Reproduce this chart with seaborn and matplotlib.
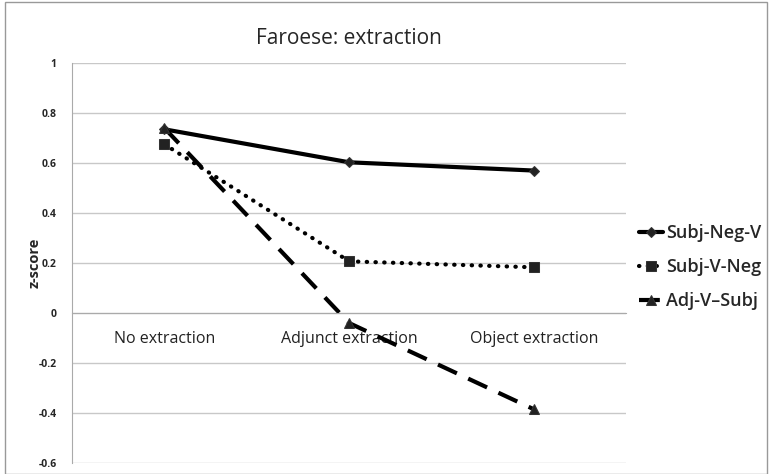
import pandas as pd
import seaborn as sns
import matplotlib.pyplot as plt
from matplotlib.patches import Rectangle
from matplotlib.ticker import MultipleLocator, FixedLocator

# Dữ liệu
categories = ["No extraction", "Adjunct extraction", "Object extraction"]
subj_neg_v = [0.735, 0.603, 0.570]
subj_v_neg = [0.675, 0.207, 0.183]
adj_v_subj = [0.740, -0.040, -0.385]
series_names = ["Subj-Neg-V", "Subj-V-Neg", "Adj-V\u2013Subj"]

df = pd.DataFrame({
    "cat": categories * 3,
    "z": subj_neg_v + subj_v_neg + adj_v_subj,
    "series": [s for s in series_names for _ in categories],
})

sns.set_style("white")
plt.rcParams["font.family"] = ["Open Sans", "DejaVu Sans"]

fig = plt.figure(figsize=(7.7, 4.74), dpi=100)
ax = fig.add_axes([0.0935, 0.023, 0.72, 0.844])

styles = {
    "Subj-Neg-V": dict(linestyle="-", marker="D", markersize=5.5),
    "Subj-V-Neg": dict(linestyle=(0, (0.1, 2.0)), marker="s", markersize=7,
                       dash_capstyle="round"),
    "Adj-V\u2013Subj": dict(linestyle=(0, (5, 3)), marker="^", markersize=7),
}
for name in series_names:
    sub = df[df["series"] == name]
    sns.lineplot(data=sub, x="cat", y="z", ax=ax, color="black", linewidth=3,
                 markeredgecolor="#333333", markerfacecolor="#222222",
                 label=name, **styles[name])

ax.set_xlim(-0.5, 2.5)
ax.set_ylim(-0.6, 1.0)
ax.yaxis.set_major_locator(MultipleLocator(0.2))
ax.set_yticklabels([f"{v:g}" for v in ax.get_yticks()])
ax.grid(axis="y", color="#c8c8c8", linewidth=1)
ax.set_axisbelow(True)

for s in ["top", "right"]:
    ax.spines[s].set_visible(False)
ax.spines["left"].set_color("#aaaaaa")
ax.spines["bottom"].set_color("#aaaaaa")
ax.spines["bottom"].set_position(("data", 0))

ax.xaxis.set_minor_locator(FixedLocator([0.5, 1.5, 2.5]))
ax.tick_params(axis="x", which="major", length=0, pad=13, labelsize=11.5,
               labelcolor="#222222")
ax.tick_params(axis="x", which="minor", length=5, color="#aaaaaa", direction="out")
ax.tick_params(axis="y", length=5, color="#aaaaaa", direction="out", pad=6)
for lab in ax.get_yticklabels():
    lab.set_fontsize(7.5)
    lab.set_fontweight("bold")

ax.set_xlabel("")
ax.set_ylabel("z-score", fontsize=10.5, fontweight="bold", labelpad=-2)
ax.set_title("Faroese: extraction", fontsize=15, pad=14)

leg = ax.legend(loc="center left", bbox_to_anchor=(1.0, 0.49), frameon=False,
                handlelength=1.3, handletextpad=0.2, labelspacing=0.9,
                borderaxespad=0.3,
                prop={"size": 13, "weight": "semibold"})

fig.patches.append(Rectangle((0.006, 0.0), 0.99, 0.995, transform=fig.transFigure,
                             fill=False, edgecolor="#999999", linewidth=1))

fig.savefig("out.png", dpi=100)
